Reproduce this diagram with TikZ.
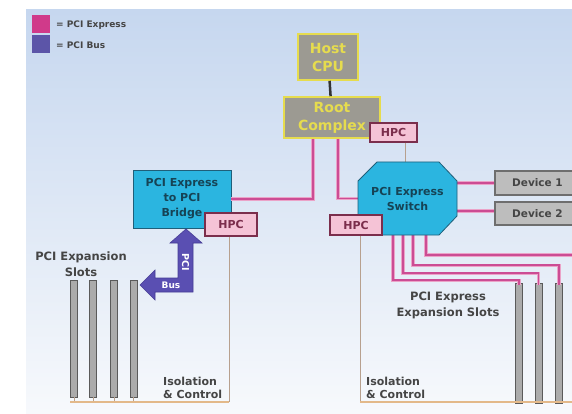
\documentclass[tikz,border=0pt]{standalone}
\usepackage{fontspec}
\setmainfont{DejaVu Sans}
\usetikzlibrary{positioning}
\definecolor{bgtop}{HTML}{C6D7EF}
\definecolor{bgbot}{HTML}{F7F9FC}
\definecolor{pcieline}{HTML}{CC4C94}
\definecolor{pcielight}{HTML}{EBA3C8}
\definecolor{legpink}{HTML}{D03A8A}
\definecolor{legbus}{HTML}{5C55A8}
\definecolor{cyanfill}{HTML}{2BB5E0}
\definecolor{cyanedge}{HTML}{1F5F7A}
\definecolor{cpufill}{HTML}{9C9A92}
\definecolor{cpuedge}{HTML}{E6DC4E}
\definecolor{hpcfill}{HTML}{F5C3D6}
\definecolor{hpcedge}{HTML}{7B2E4C}
\definecolor{devfill}{HTML}{BDBDBD}
\definecolor{devedge}{HTML}{6E6E6E}
\definecolor{slotfill}{HTML}{ABABAB}
\definecolor{slotedge}{HTML}{5A5A5A}
\definecolor{isoline}{HTML}{B7A08E}
\definecolor{baseline}{HTML}{E3B98A}
\definecolor{label}{HTML}{454545}
\definecolor{busfill}{HTML}{5A4FB2}
\definecolor{busedge}{HTML}{463C95}
\tikzset{
  pcie/.style={draw=pcielight,line width=3.2pt,postaction={draw=pcieline,line width=1.8pt}},
  iso/.style={draw=isoline,line width=0.8pt},
  isobase/.style={draw=baseline,line width=1.6pt},
  hostbox/.style={draw=cpuedge,line width=1.6pt,fill=cpufill,text=cpuedge,align=center,inner sep=0pt,
    font=\bfseries\fontsize{14}{18}\selectfont},
  cyanbox/.style={draw=cyanedge,line width=0.8pt,fill=cyanfill,text=cyanedge!70!black,align=center,inner sep=0pt,
    font=\bfseries\fontsize{11}{15}\selectfont},
  hpcbox/.style={draw=hpcedge,line width=1.2pt,fill=hpcfill,text=hpcedge,inner sep=0pt,
    font=\bfseries\fontsize{11}{13}\selectfont},
  devbox/.style={draw=devedge,line width=1.4pt,fill=devfill,text=label,inner sep=0pt,
    font=\bfseries\fontsize{10.5}{13}\selectfont},
  slot/.style={draw=slotedge,line width=0.9pt,fill=slotfill,minimum width=7pt,inner sep=0pt},
  txt/.style={text=label,align=center,inner sep=0pt,font=\bfseries\fontsize{11.5}{16}\selectfont},
  isotxt/.style={text=label,align=left,anchor=west,inner sep=0pt,font=\bfseries\fontsize{11}{13}\selectfont}
}
\begin{document}
\begin{tikzpicture}[x=1pt,y=-1pt]
  \useasboundingbox (0,0) rectangle (572,414);
  \fill[white] (0,0) rectangle (572,414);
  \shade[top color=bgtop,bottom color=bgbot] (26,10) rectangle (572,414);
  % legend
  \fill[legpink] (32,15) rectangle (50,33);
  \fill[legbus] (32,35) rectangle (50,53);
  \node[anchor=west,text=label,inner sep=0pt,font=\bfseries\fontsize{9}{11}\selectfont] (legexp) at (56,25) {= PCI Express};
  \node[anchor=west,text=label,inner sep=0pt,font=\bfseries\fontsize{9}{11}\selectfont] (legbus) at (56,45) {= PCI Bus};
  % boxes
  \node[hostbox,minimum width=60pt,minimum height=46pt] (cpu) at (328,57) {Host\\CPU};
  \node[hostbox,minimum width=96pt,minimum height=41pt] (rc) at (332,117.5) {Root\\Complex};
  \node[hpcbox,minimum width=47pt,minimum height=19pt] (rchpc) at (393.5,132.5) {HPC};
  \draw[draw=black!80,line width=2.5pt] (cpu) -- (rc);
  \coordinate (isoL) at (70,402);
  \coordinate (isoR) at (575,402);
  \coordinate (xedge) at (578,255);
  \node[cyanbox,minimum width=98pt,minimum height=58pt] (bridge) at (182,199) {PCI Express\\to PCI\\Bridge};
  \node[inner sep=0pt,minimum width=99pt,minimum height=73pt] (sw) at (407.5,198.5) {};
  \node[devbox,minimum width=85pt,minimum height=24pt] (dev1) at (537.5,183) {Device 1};
  \node[devbox,minimum width=85pt,minimum height=23pt] (dev2) at (537.5,213.5) {Device 2};
  % slots
  \foreach \x [count=\i] in {74,93,114,133.5}
  {
    \node[slot,minimum height=117pt] (ls\i) at (\x,338.5) {};
    \draw[iso] (ls\i.south) -- (ls\i.south |- isoL);
  }
  \foreach \x [count=\i] in {519,538.5,559}
  {
    \node[slot,minimum height=120pt] (rs\i) at (\x,343) {};
  }
  % isolation
  \draw[iso] ([xshift=11.5pt]rchpc.south) -- ([xshift=11.5pt]rchpc.south |- sw.north);
  \draw[iso] ([xshift=-2pt]bridge.south east |- 0,236) -- ([xshift=-2pt]bridge.south east |- isoL);
  \draw[iso] (360,235) -- (360,402);
  \draw[isobase] (isoL) -- ([xshift=-2pt]bridge.south east |- isoL);
  \draw[isobase] (360,402) -- (isoR);
  % pci express links
  \draw[pcie] ([xshift=-19pt]rc.south) |- (bridge.east);
  \draw[pcie] ([xshift=6pt]rc.south) |- (sw.west);
  \draw[pcie] (sw.east |- dev1) -- (dev1.west);
  \draw[pcie] (sw.east |- 0,211) -- (dev2.west |- 0,211);
  \foreach \dx/\dy [count=\i] in {-14.5/45,-4.5/38,5.5/30}
  {
    \draw[pcie] ([xshift=\dx pt]sw.south) -- ++(0,\dy) -| ([yshift=-2pt]rs\i.north);
  }
  \draw[pcie] ([xshift=18.5pt]sw.south) |- (xedge);
  % switch
  \filldraw[draw=cyanedge,line width=0.8pt,fill=cyanfill] (377,162) -- (439,162) -- (457,181) -- (457,216)
    -- (439,235) -- (377,235) -- (358,216) -- (358,181) -- cycle;
  \node[cyanbox,draw=none,fill=none] (swtxt) at (sw) {PCI Express\\Switch};
  \node[hpcbox,minimum width=52pt,minimum height=23pt] (brhpc) at (231,224.5) {HPC};
  \node[hpcbox,minimum width=52pt,minimum height=20pt] (swhpc) at (356,225) {HPC};
  % pci bus arrow
  \filldraw[draw=busedge,fill=busfill,line width=0.6pt] (140,285) -- (155,270) -- (155,278) -- (178,278)
    -- (178,243) -- (170,243) -- (186,229) -- (202,243) -- (193,243) -- (193,292) -- (155,292)
    -- (155,300) -- cycle;
  \node[text=white,rotate=-90,inner sep=0pt,font=\bfseries\fontsize{9.5}{10}\selectfont] (buspci) at (185.5,262) {PCI};
  \node[text=white,inner sep=0pt,font=\bfseries\fontsize{9}{10}\selectfont] (busbus) at (171,285) {Bus};
  % labels
  \node[txt] (pcislots) at (81,264) {PCI Expansion\\Slots};
  \node[txt] (pcieslots) at (448,305) {PCI Express\\Expansion Slots};
  \node[isotxt] (isoleft) at (163,388) {Isolation\\\& Control};
  \node[isotxt] (isoright) at (366,388) {Isolation\\\& Control};
\end{tikzpicture}
\end{document}
